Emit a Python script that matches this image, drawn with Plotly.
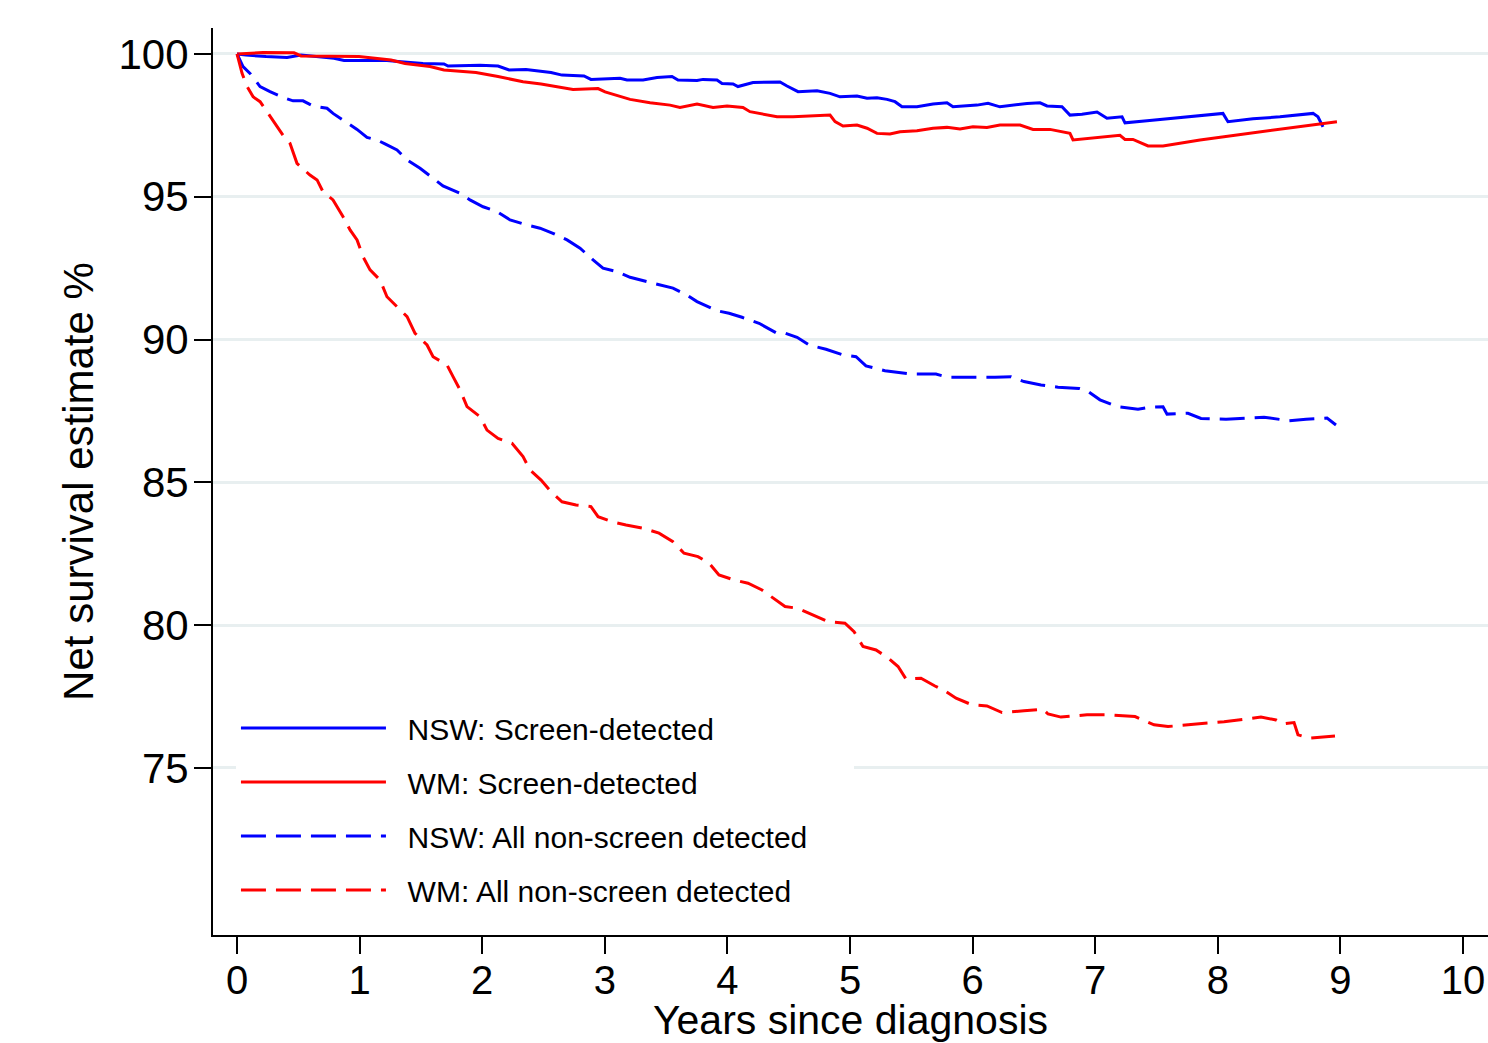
import plotly.graph_objects as go

# ---- data (years since diagnosis, net survival %) ----
nsw_sd_t = [0.000, 0.073, 0.237, 0.408, 0.522, 0.791, 0.873, 1.223, 1.338, 1.517, 1.688, 1.721, 1.982, 2.129, 2.219,
            2.357, 2.561, 2.651, 2.830, 2.887, 3.124, 3.181, 3.312, 3.426, 3.548, 3.597, 3.752, 3.801, 3.915, 3.956,
            4.046, 4.086, 4.209, 4.429, 4.486, 4.576, 4.731, 4.837, 4.918, 5.057, 5.139, 5.220, 5.302, 5.367, 5.424,
            5.546, 5.677, 5.791, 5.840, 6.036, 6.126, 6.223, 6.444, 6.550, 6.607, 6.729, 6.794, 6.892, 7.015, 7.096,
            7.219, 7.243, 7.423, 7.635, 7.855, 8.042, 8.083, 8.287, 8.507, 8.777, 8.817, 8.858]
nsw_sd_v = [100.00, 99.96, 99.91, 99.88, 99.96, 99.85, 99.77, 99.77, 99.73, 99.67, 99.65, 99.58, 99.61, 99.58, 99.44,
            99.46, 99.35, 99.26, 99.23, 99.11, 99.15, 99.09, 99.09, 99.18, 99.21, 99.09, 99.07, 99.11, 99.09, 98.97,
            98.95, 98.86, 99.00, 99.02, 98.88, 98.68, 98.71, 98.62, 98.50, 98.53, 98.45, 98.47, 98.41, 98.33, 98.15,
            98.15, 98.25, 98.29, 98.15, 98.21, 98.27, 98.15, 98.27, 98.29, 98.18, 98.15, 97.86, 97.89, 97.97, 97.75,
            97.80, 97.59, 97.66, 97.75, 97.83, 97.92, 97.63, 97.73, 97.80, 97.92, 97.80, 97.45]

wm_sd_t = [0.000, 0.212, 0.465, 0.522, 0.995, 1.256, 1.370, 1.574, 1.688, 1.949, 2.129, 2.333, 2.480, 2.635, 2.741,
           2.945, 3.002, 3.206, 3.369, 3.532, 3.613, 3.752, 3.883, 3.997, 4.127, 4.184, 4.405, 4.535, 4.837, 4.878,
           4.943, 5.057, 5.139, 5.220, 5.326, 5.408, 5.546, 5.677, 5.791, 5.897, 6.003, 6.117, 6.223, 6.387, 6.493,
           6.631, 6.794, 6.819, 7.039, 7.202, 7.243, 7.308, 7.431, 7.553, 7.855, 8.263, 8.670, 8.972]
wm_sd_v = [100.00, 100.05, 100.04, 99.93, 99.91, 99.79, 99.67, 99.56, 99.44, 99.35, 99.21, 99.03, 98.95, 98.83, 98.76,
           98.79, 98.67, 98.41, 98.29, 98.21, 98.13, 98.25, 98.13, 98.18, 98.13, 97.98, 97.80, 97.80, 97.86, 97.63,
           97.48, 97.51, 97.40, 97.22, 97.20, 97.28, 97.31, 97.40, 97.43, 97.37, 97.45, 97.43, 97.51, 97.51, 97.36,
           97.36, 97.22, 96.99, 97.08, 97.15, 97.01, 97.01, 96.78, 96.78, 96.99, 97.22, 97.45, 97.63]

nsw_ns_t = [0.000, 0.049, 0.106, 0.188, 0.269, 0.375, 0.457, 0.538, 0.620, 0.734, 0.783, 0.865, 0.979, 1.060, 1.142,
            1.207, 1.305, 1.387, 1.493, 1.574, 1.680, 1.819, 1.900, 2.007, 2.121, 2.227, 2.365, 2.471, 2.577, 2.692,
            2.798, 2.904, 2.985, 3.100, 3.206, 3.344, 3.450, 3.556, 3.670, 3.752, 3.915, 4.013, 4.119, 4.258, 4.396,
            4.462, 4.568, 4.666, 4.804, 4.943, 5.049, 5.130, 5.285, 5.489, 5.701, 5.799, 6.183, 6.313, 6.419, 6.558,
            6.697, 6.868, 6.933, 7.039, 7.178, 7.349, 7.447, 7.553, 7.586, 7.757, 7.863, 8.067, 8.377, 8.581, 8.720,
            8.891, 8.964]
nsw_ns_v = [100.00, 99.56, 99.32, 98.86, 98.68, 98.48, 98.36, 98.36, 98.18, 98.10, 97.92, 97.69, 97.36, 97.08, 96.99,
            96.85, 96.64, 96.29, 96.00, 95.73, 95.38, 95.12, 94.89, 94.65, 94.48, 94.19, 94.01, 93.90, 93.72, 93.49,
            93.20, 92.79, 92.50, 92.38, 92.18, 92.03, 91.91, 91.80, 91.56, 91.33, 91.01, 90.92, 90.78, 90.57, 90.24,
            90.24, 90.08, 89.81, 89.66, 89.46, 89.40, 89.08, 88.91, 88.80, 88.79, 88.68, 88.68, 88.70, 88.53, 88.41,
            88.33, 88.29, 88.21, 87.89, 87.65, 87.56, 87.63, 87.65, 87.39, 87.42, 87.24, 87.21, 87.28, 87.16, 87.21,
            87.25, 87.01]

wm_ns_t = [0.000, 0.041, 0.082, 0.131, 0.188, 0.245, 0.326, 0.392, 0.432, 0.489, 0.595, 0.653, 0.701, 0.783, 0.865,
           0.922, 0.979, 1.028, 1.085, 1.166, 1.223, 1.305, 1.387, 1.452, 1.550, 1.599, 1.713, 1.762, 1.819, 1.876,
           1.982, 2.039, 2.129, 2.243, 2.333, 2.390, 2.480, 2.561, 2.651, 2.765, 2.887, 2.945, 3.059, 3.173, 3.320,
           3.442, 3.556, 3.646, 3.760, 3.850, 3.931, 4.054, 4.168, 4.282, 4.396, 4.470, 4.576, 4.698, 4.821, 4.959,
           5.033, 5.106, 5.212, 5.302, 5.392, 5.457, 5.579, 5.693, 5.783, 5.865, 5.995, 6.117, 6.240, 6.419, 6.574,
           6.615, 6.721, 6.933, 7.088, 7.325, 7.480, 7.594, 7.749, 8.051, 8.352, 8.475, 8.532, 8.622, 8.654, 8.744,
           8.956]
wm_ns_v = [100.00, 99.32, 98.86, 98.50, 98.33, 97.98, 97.45, 97.05, 96.87, 96.17, 95.76, 95.59, 95.18, 94.89, 94.30,
           93.84, 93.49, 92.90, 92.44, 92.09, 91.50, 91.15, 90.80, 90.22, 89.81, 89.40, 89.11, 88.70, 88.24, 87.65,
           87.30, 86.83, 86.54, 86.37, 85.90, 85.43, 85.08, 84.67, 84.32, 84.21, 84.15, 83.80, 83.62, 83.51, 83.39,
           83.22, 82.92, 82.52, 82.40, 82.17, 81.76, 81.58, 81.47, 81.23, 80.88, 80.65, 80.59, 80.36, 80.12, 80.07,
           79.77, 79.25, 79.13, 78.88, 78.55, 78.11, 78.14, 77.87, 77.67, 77.44, 77.21, 77.17, 76.94, 77.00, 77.06,
           76.89, 76.78, 76.86, 76.86, 76.80, 76.51, 76.45, 76.51, 76.62, 76.78, 76.68, 76.54, 76.59, 76.16, 76.04,
           76.12]

series_names = ["NSW: Screen-detected", "WM: Screen-detected",
                "NSW: All non-screen detected", "WM: All non-screen detected"]
x_ticks = [0, 1, 2, 3, 4, 5, 6, 7, 8, 9, 10]
y_ticks = [75, 80, 85, 90, 95, 100]

FONT = "Liberation Sans, Arial, sans-serif"
LEAD = "\u00a0\u00a0"
TRAIL = "\u00a0" * 5

fig = go.Figure()
specs = [
    (nsw_sd_t, nsw_sd_v, "#0000ff", "solid"),
    (wm_sd_t, wm_sd_v, "#ff0000", "solid"),
    (nsw_ns_t, nsw_ns_v, "#0000ff", "25px,10px"),
    (wm_ns_t, wm_ns_v, "#ff0000", "25px,10px"),
]
for i, (t, v, col, dash) in enumerate(specs):
    fig.add_trace(go.Scatter(
        x=t, y=v, mode="lines", name=LEAD + series_names[i] + TRAIL, legendgroup=f"g{i}",
        line=dict(color=col, width=3, dash=dash),
    ))

fig.update_layout(
    width=1488, height=1043,
    margin=dict(l=213, r=0, t=28, b=108),
    paper_bgcolor="white", plot_bgcolor="white",
    font=dict(family=FONT, color="black"),
    showlegend=True,
    legend=dict(
        x=0.018, y=0.257, xanchor="left", yanchor="top",
        bgcolor="white", borderwidth=0,
        font=dict(family=FONT, size=30, color="black"),
        itemwidth=145, tracegroupgap=12,
    ),
    xaxis=dict(
        range=[-0.196, 10.204], tickmode="array", tickvals=x_ticks,
        ticks="outside", ticklen=17, tickwidth=2, tickcolor="black",
        showline=True, linecolor="black", linewidth=2,
        showgrid=False, zeroline=False, ticklabelstandoff=-8,
        tickfont=dict(family=FONT, size=40, color="black"),
        title=dict(text="Years since diagnosis", font=dict(family=FONT, size=41, color="black"), standoff=13),
    ),
    yaxis=dict(
        range=[69.15, 100.91], tickmode="array", tickvals=y_ticks,
        ticks="outside", ticklen=17, tickwidth=2, tickcolor="black",
        showline=True, linecolor="black", linewidth=2,
        showgrid=True, gridcolor="#e8eff0", gridwidth=3, zeroline=False,
        ticklabelstandoff=-3,
        tickfont=dict(family=FONT, size=42, color="black"),
        title=dict(text="Net survival estimate %", font=dict(family=FONT, size=42, color="black"), standoff=12),
    ),
)

fig.write_html("out.html")
